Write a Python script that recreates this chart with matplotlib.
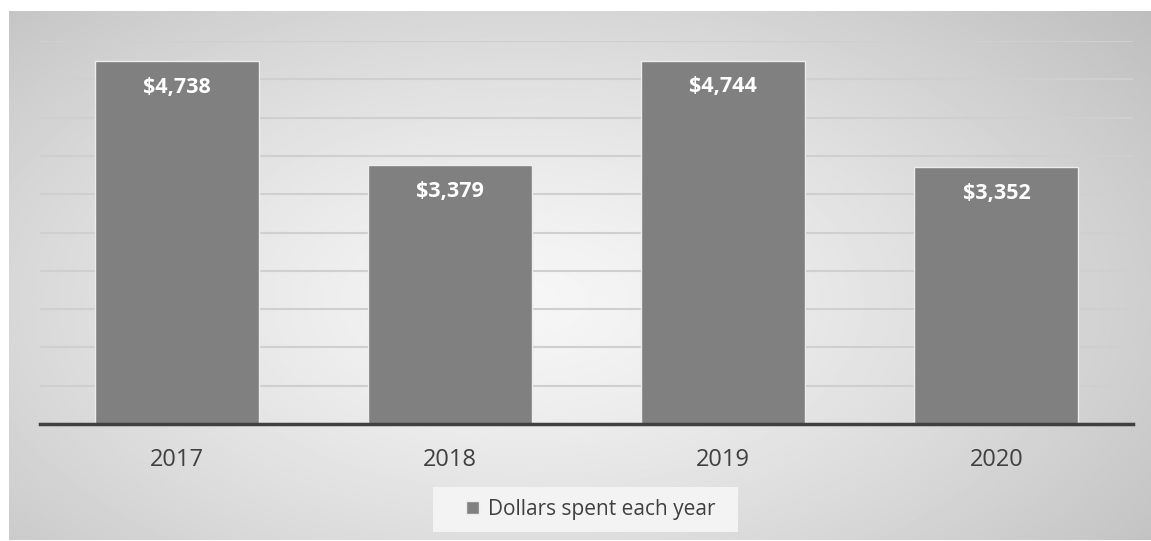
import numpy as np
import matplotlib
matplotlib.use("Agg")
import matplotlib.pyplot as plt
from matplotlib.patches import Rectangle

years = ["2017", "2018", "2019", "2020"]
dollars = [4738, 3379, 4744, 3352]
series_name = "Dollars spent each year"

plt.rcParams['font.family'] = ['Open Sans', 'DejaVu Sans']

W, H = 1151, 541
fig = plt.figure(figsize=(W / 100, H / 100), dpi=100)

# Hintergrund mit radialem Verlauf
bg = fig.add_axes([9 / W, 1 / H, 1142 / W, 529 / H])
yy, xx = np.mgrid[0:1:300j, 0:1:600j]
r = np.sqrt(((xx - 0.45) / 0.75) ** 2 + ((yy - 0.45) / 0.9) ** 2)
r = np.clip(r / r.max(), 0, 1)
shade = 0.965 - 0.22 * r ** 1.3
bg.imshow(shade, cmap="gray", vmin=0, vmax=1, aspect="auto", origin="lower",
          extent=[0, 1, 0, 1], interpolation="bilinear")
bg.set_axis_off()

ax = fig.add_axes([40 / W, 117 / H, 1093 / W, 383 / H])
ax.patch.set_alpha(0)
x = np.arange(len(years))
bars = ax.bar(x, dollars, width=0.6, color="#808080", edgecolor="#ececec",
              linewidth=1, label=series_name, zorder=3)

ax.set_xlim(-0.5, len(years) - 0.5)
ax.set_ylim(0, 5000)
ax.set_yticks(np.arange(0, 5001, 500))
ax.yaxis.grid(True, color="#cfcfcf", linewidth=1.5, zorder=0)
ax.tick_params(axis="y", left=False, labelleft=False)
ax.set_xticks(x)
ax.set_xticklabels(years, fontsize=17, color="#404040")
ax.tick_params(axis="x", length=0, pad=17)
for s in ["top", "right", "left"]:
    ax.spines[s].set_visible(False)
ax.spines["bottom"].set_color("#404040")
ax.spines["bottom"].set_linewidth(2.5)
ax.spines["bottom"].set_zorder(4)

for b, v in zip(bars, dollars):
    ax.annotate(f"${v:,}", (b.get_x() + b.get_width() / 2, v),
                xytext=(0, -19), textcoords="offset points",
                ha="center", va="center", color="white",
                fontsize=15.5, fontweight="bold", zorder=5)

# Legende mit hellem Kasten
fig.patches.append(Rectangle((433 / W, 1 - 532 / H), 305 / W, 45 / H,
                             transform=fig.transFigure, facecolor="#f3f3f3",
                             edgecolor="none", zorder=1))
leg = fig.legend(handles=[bars], labels=[series_name], loc="center",
                 bbox_to_anchor=(591 / W, 1 - 509.5 / H),
                 fontsize=15, frameon=False,
                 handlelength=0.6, handleheight=0.6, handletextpad=0.45,
                 borderpad=0.6, borderaxespad=0)
for t in leg.get_texts():
    t.set_color("#404040")

plt.savefig("out.png", dpi=100)
